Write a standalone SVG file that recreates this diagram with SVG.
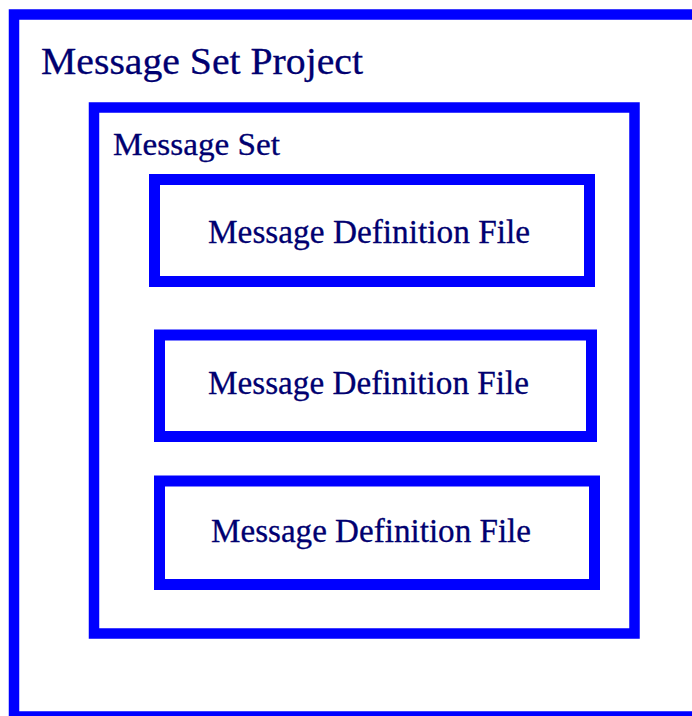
<svg xmlns="http://www.w3.org/2000/svg" width="692" height="716" viewBox="0 0 692 716">
  <style>
    .frame { fill: none; stroke: #0000ff; stroke-width: 10.5; }
    .file { fill: none; stroke: #0000ff; stroke-width: 11; }
    .label { font-family: "Liberation Serif", "Times New Roman", serif; fill: #000070; stroke: #000070; stroke-width: 0.3; }
  </style>
  <rect width="692" height="716" fill="#ffffff"/>

  <!-- Project container -->
  <g id="project">
    <rect class="frame" x="14" y="14.5" width="700" height="702"/>
    <text class="label" x="41" y="74" font-size="37" textLength="322" lengthAdjust="spacingAndGlyphs">Message Set Project</text>
  </g>

  <!-- Message set container -->
  <g id="message-set">
    <rect class="frame" x="94" y="107.5" width="540.5" height="526"/>
    <text class="label" x="113" y="155" font-size="31" textLength="167" lengthAdjust="spacingAndGlyphs">Message Set</text>
  </g>

  <!-- Definition files -->
  <g id="file-1">
    <rect class="file" x="154.5" y="179.5" width="435" height="102"/>
    <text class="label" x="208" y="243" font-size="34" textLength="322" lengthAdjust="spacingAndGlyphs">Message Definition File</text>
  </g>
  <g id="file-2">
    <rect class="file" x="159.5" y="335" width="432" height="101.5"/>
    <text class="label" x="208" y="394" font-size="34" textLength="321" lengthAdjust="spacingAndGlyphs">Message Definition File</text>
  </g>
  <g id="file-3">
    <rect class="file" x="159.5" y="481" width="435" height="103.5"/>
    <text class="label" x="211" y="542" font-size="34" textLength="320" lengthAdjust="spacingAndGlyphs">Message Definition File</text>
  </g>

  <g id="connectors"/>
</svg>
